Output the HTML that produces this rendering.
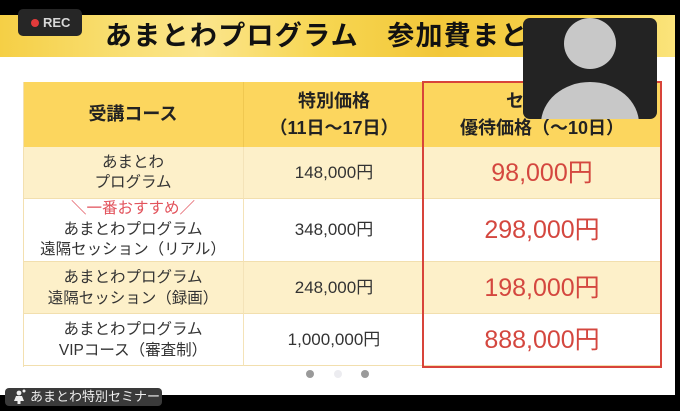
<!DOCTYPE html>
<html><head><meta charset="utf-8">
<style>
*{margin:0;padding:0;box-sizing:border-box}
html,body{width:680px;height:411px;overflow:hidden;background:#000}
body{position:relative;font-family:"Liberation Sans","Noto Sans CJK JP",sans-serif}
.abs{position:absolute}
#slide{left:0;top:15px;width:675px;height:380px;background:#fff}
#band{left:0;top:15px;width:675px;height:42px;background:linear-gradient(90deg,#f5cf45 0%,#f9df73 18%,#fbe58c 30%,#f7d651 48%,#f2c73a 65%,#f6d24c 85%,#fbe47c 100%)}
#title{left:105px;top:17px;font-size:27px;font-weight:bold;color:#111;letter-spacing:1.3px;white-space:nowrap;line-height:38px;font-family:"Liberation Sans","Noto Sans CJK JP",sans-serif}
.cell{position:absolute;display:flex;flex-direction:column;align-items:center;justify-content:center;text-align:center;color:#333;font-size:15.5px;line-height:20px;white-space:nowrap}
.hd{background:#fcd65e;color:#222;font-weight:bold;font-size:18px;line-height:27px}
.y{background:#fdf0c9}
.w{background:#fff}
.p{font-size:17px;color:#333}
.r{font-size:25px;color:#d4473f}
.bl{border-bottom:1px solid #f2dfae}
</style></head><body>
<div id="slide" class="abs"></div>
<div id="band" class="abs"></div>
<div id="title" class="abs">あまとわプログラム　参加費まとめ</div>

<div class="cell hd" style="left:23px;top:82px;width:220px;height:65px;">受講コース</div>
<div class="cell hd" style="left:243px;top:82px;width:181px;height:65px;border-left:1px solid #f0c850"><div>特別価格</div><div>（11日～17日）</div></div>
<div class="cell hd" style="left:424px;top:82px;width:236px;height:65px;"><div>セミナー</div><div>優待価格（～10日）</div></div>

<div class="cell y bl" style="left:23px;top:147px;width:220px;height:52px;"><div>あまとわ</div><div>プログラム</div></div>
<div class="cell y bl p" style="left:243px;top:147px;width:181px;height:52px;border-left:1px solid #f4e3b8">148,000円</div>
<div class="cell y bl r" style="left:424px;top:147px;width:236px;height:52px;">98,000円</div>

<div class="cell w bl" style="left:23px;top:199px;width:220px;height:63px;line-height:20.5px"><div style="color:#e2535c">＼一番おすすめ／</div><div>あまとわプログラム</div><div>遠隔セッション（リアル）</div></div>
<div class="cell w bl p" style="left:243px;top:199px;width:181px;height:63px;border-left:1px solid #f4e3b8">348,000円</div>
<div class="cell w bl r" style="left:424px;top:199px;width:236px;height:63px;">298,000円</div>

<div class="cell y bl" style="left:23px;top:262px;width:220px;height:52px;line-height:21px"><div>あまとわプログラム</div><div>遠隔セッション（録画）</div></div>
<div class="cell y bl p" style="left:243px;top:262px;width:181px;height:52px;border-left:1px solid #f4e3b8">248,000円</div>
<div class="cell y bl r" style="left:424px;top:262px;width:236px;height:52px;">198,000円</div>

<div class="cell w bl" style="left:23px;top:314px;width:220px;height:52px;line-height:21px"><div>あまとわプログラム</div><div>VIPコース（審査制）</div></div>
<div class="cell w bl p" style="left:243px;top:314px;width:181px;height:52px;border-left:1px solid #f4e3b8">1,000,000円</div>
<div class="cell w bl r" style="left:424px;top:314px;width:236px;height:52px;">888,000円</div>
<div class="abs" style="left:23px;top:82px;width:1px;height:285px;background:#f3e0b0"></div>

<div class="abs" style="left:422px;top:81px;width:240px;height:287px;border:2px solid #d8443a"></div>

<div class="abs" style="left:306px;top:370px;width:8px;height:8px;border-radius:50%;background:#9a9a9a"></div>
<div class="abs" style="left:334px;top:370px;width:8px;height:8px;border-radius:50%;background:#ececf0"></div>
<div class="abs" style="left:361px;top:370px;width:8px;height:8px;border-radius:50%;background:#9a9a9a"></div>

<div class="abs" style="left:18px;top:9px;width:64px;height:27px;background:#262626;border-radius:5px"></div>
<div class="abs" style="left:31px;top:19px;width:8px;height:8px;border-radius:50%;background:#e23b3b"></div>
<div class="abs" style="left:43px;top:14px;font-size:13px;font-weight:bold;color:#d8d8d8;line-height:18px">REC</div>

<div class="abs" style="left:523px;top:18px;width:134px;height:101px;background:#232323;border-radius:7px;overflow:hidden">
  <div class="abs" style="left:41px;top:0px;width:52px;height:51px;border-radius:50%;background:#c8c8c8"></div>
  <div class="abs" style="left:18px;top:64px;width:98px;height:84px;border-radius:50%;background:#c8c8c8"></div>
</div>

<div class="abs" style="left:5px;top:388px;width:157px;height:18px;background:#3a3a3a;border-radius:4px"></div>
<svg class="abs" style="left:11px;top:389px" width="16" height="16" viewBox="0 0 16 16">
  <circle cx="8" cy="4" r="2.4" fill="#eee"/>
  <path d="M5 7 L11 7 L13 12 L9.5 12 L9.5 15 L6.5 15 L6.5 12 L3 12 Z" fill="#eee"/>
  <circle cx="13" cy="2" r="1.5" fill="#eee"/>
</svg>
<div class="abs" style="left:30px;top:388px;font-size:13px;color:#eee;line-height:18px;white-space:nowrap">あまとわ特別セミナー</div>
</body></html>
